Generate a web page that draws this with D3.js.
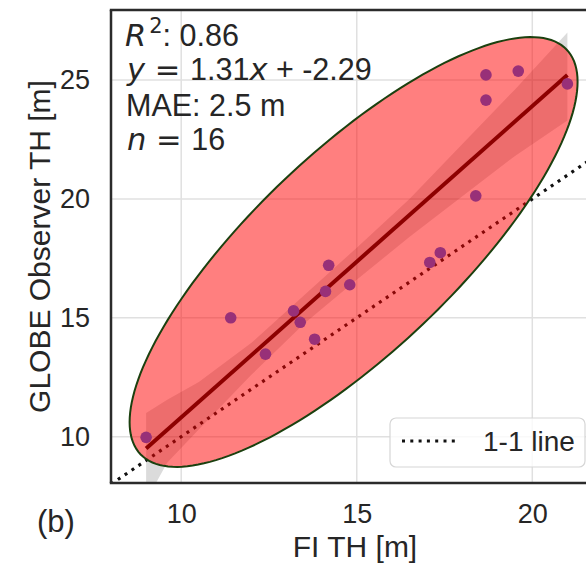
<!DOCTYPE html>
<html>
<head>
<meta charset="utf-8">
<script src="https://cdn.jsdelivr.net/npm/d3@7"></script>
<style>
  html, body { margin: 0; padding: 0; background: #fff; }
  svg { display: block; }
  text { font-family: "Liberation Sans", Arial, sans-serif; fill: #262626; white-space: pre; }
</style>
</head>
<body>
<svg id="chart" width="586" height="567"></svg>
<script>
// ---- data ----
const fiTH    = [9.0, 11.41, 12.40, 13.20, 13.39, 13.80, 14.11, 14.20, 14.80, 17.08, 17.38, 18.39, 18.68, 19.60, 18.68, 21.0];
const globeTH = [9.97, 15.0, 13.47, 15.29, 14.81, 14.10, 16.11, 17.21, 16.39, 17.33, 17.74, 20.13, 25.22, 25.38, 24.16, 24.84];
const slope = 1.31, intercept = -2.29;
const bandX  = [9.0, 9.6, 10.5, 12, 13.5, 15, 16.5, 18, 19.5, 21];
const bandLo = [7.3, 8.9, 10.3, 12.6, 14.75, 16.6, 18.4, 20.1, 21.8, 23.3];
const bandHi = [11.0, 11.55, 12.3, 13.95, 15.95, 17.95, 20.0, 22.3, 24.6, 27.0];
const ellipseCenter = [14.91, 17.77];
const ellipseSemiAxes = [10.55, 3.34];
const ellipseAngleDeg = 57.1;
const xTicks = [10, 15, 20];
const yTicks = [10, 15, 20, 25];
const xDomain = [8, 21.9];
const yDomain = [8.05, 27.95];
const annotation = {r2: "0.86", slope: "1.31", intercept: "-2.29", mae: "2.5 m", n: "16"};
const legendLabel = "1-1 line";
const panelLabel = "(b)";
const xLabel = "FI TH [m]";
const yLabel = "GLOBE Observer TH [m]";

// ---- layout ----
const L = 111, T = 10, B = 483, R = 599;
const svg = d3.select("#chart");
const x = d3.scaleLinear().domain(xDomain).range([L, R]);
const y = d3.scaleLinear().domain(yDomain).range([B, T]);

svg.append("defs").append("clipPath").attr("id", "plotclip")
  .append("rect").attr("x", L).attr("y", T).attr("width", R - L).attr("height", B - T);

const plot = svg.append("g").attr("clip-path", "url(#plotclip)");

// grid
plot.selectAll(".gx").data(xTicks).join("line")
  .attr("x1", d => x(d)).attr("x2", d => x(d)).attr("y1", T).attr("y2", B)
  .attr("stroke", "#e0e0e0").attr("stroke-width", 1.5);
plot.selectAll(".gy").data(yTicks).join("line")
  .attr("y1", d => y(d)).attr("y2", d => y(d)).attr("x1", L).attr("x2", R)
  .attr("stroke", "#e0e0e0").attr("stroke-width", 1.5);

// confidence band
const bandData = bandX.map((v, i) => ({x: v, lo: bandLo[i], hi: bandHi[i]}));
plot.append("path").datum(bandData)
  .attr("d", d3.area().x(d => x(d.x)).y0(d => y(d.lo)).y1(d => y(d.hi)))
  .attr("fill", "#000").attr("fill-opacity", 0.14);

// 1-1 line
plot.append("line")
  .attr("x1", x(xDomain[0])).attr("y1", y(xDomain[0]))
  .attr("x2", x(xDomain[1])).attr("y2", y(xDomain[1]))
  .attr("stroke", "#111").attr("stroke-width", 3.2).attr("stroke-dasharray", "3 5.3");

// regression line
const xMin = d3.min(fiTH), xMax = d3.max(fiTH);
plot.append("line")
  .attr("x1", x(xMin)).attr("y1", y(slope * xMin + intercept))
  .attr("x2", x(xMax)).attr("y2", y(slope * xMax + intercept))
  .attr("stroke", "#1a0000").attr("stroke-width", 4);

// points
plot.selectAll(".pt").data(fiTH.map((v, i) => [v, globeTH[i]])).join("circle")
  .attr("cx", d => x(d[0])).attr("cy", d => y(d[1])).attr("r", 5.8)
  .attr("fill", "#3060f0");

// ellipse (data space -> pixel via scales)
const th = ellipseAngleDeg * Math.PI / 180;
const ellPts = d3.range(0, 361, 2).map(deg => {
  const t = deg * Math.PI / 180;
  const ex = ellipseSemiAxes[0] * Math.cos(t), ey = ellipseSemiAxes[1] * Math.sin(t);
  return [ellipseCenter[0] + ex * Math.cos(th) - ey * Math.sin(th),
          ellipseCenter[1] + ex * Math.sin(th) + ey * Math.cos(th)];
});
plot.append("path").datum(ellPts)
  .attr("d", d3.line().x(d => x(d[0])).y(d => y(d[1])).curve(d3.curveLinearClosed))
  .attr("fill", "#ff0000").attr("fill-opacity", 0.5)
  .attr("stroke", "#1b400f").attr("stroke-width", 2);

// spines
svg.append("line").attr("x1", L).attr("x2", L).attr("y1", T).attr("y2", B)
  .attr("stroke", "#2b2b2b").attr("stroke-width", 2.5);
svg.append("line").attr("x1", L - 1.2).attr("x2", R).attr("y1", B).attr("y2", B)
  .attr("stroke", "#2b2b2b").attr("stroke-width", 2.5);
svg.append("line").attr("x1", L - 1.2).attr("x2", R).attr("y1", T).attr("y2", T)
  .attr("stroke", "#2b2b2b").attr("stroke-width", 2.5);

// axes tick labels via d3 axes
const xAxis = svg.append("g").attr("transform", `translate(0,${B})`)
  .call(d3.axisBottom(x).tickValues(xTicks).tickSize(0).tickPadding(21));
xAxis.select(".domain").remove();
xAxis.selectAll("text").attr("font-size", 27).attr("fill", "#262626")
  .style("font-family", "Liberation Sans, Arial, sans-serif");

const yAxis = svg.append("g").attr("transform", `translate(${L},0)`)
  .call(d3.axisLeft(y).tickValues(yTicks).tickSize(0).tickPadding(21));
yAxis.select(".domain").remove();
yAxis.selectAll("text").attr("font-size", 27).attr("fill", "#262626")
  .style("font-family", "Liberation Sans, Arial, sans-serif");

// axis labels
svg.append("text").attr("x", (L + R) / 2).attr("y", 557).attr("text-anchor", "middle")
  .attr("font-size", 30).text(xLabel);
svg.append("text").attr("transform", `translate(50,${(T + B) / 2}) rotate(-90)`)
  .attr("text-anchor", "middle").attr("font-size", 30).text(yLabel);
svg.append("text").attr("x", 37).attr("y", 532).attr("font-size", 31).text(panelLabel);

// annotation
const ann = svg.append("g").attr("font-size", 30.5);
const mathFont = "DejaVu Sans, sans-serif";
const l1 = ann.append("text").attr("x", 125).attr("y", 46);
l1.append("tspan").style("font-family", mathFont).attr("font-style", "italic").text("R");
l1.append("tspan").attr("font-size", 21).attr("dx", 3).attr("dy", -13).style("font-family", mathFont).text("2");
l1.append("tspan").attr("dy", 13).text(": " + annotation.r2);

const l2 = ann.append("text").attr("x", 127).attr("y", 80);
l2.append("tspan").style("font-family", mathFont).attr("font-style", "italic").text("y");
l2.append("tspan").style("font-family", mathFont).text(" = ");
l2.append("tspan").text(annotation.slope);
l2.append("tspan").style("font-family", mathFont).attr("font-style", "italic").text("x");
l2.append("tspan").text(" + " + annotation.intercept);

ann.append("text").attr("x", 126).attr("y", 116).text("MAE: " + annotation.mae);

const l4 = ann.append("text").attr("x", 127).attr("y", 150);
l4.append("tspan").style("font-family", mathFont).attr("font-style", "italic").text("n");
l4.append("tspan").style("font-family", mathFont).text(" = ");
l4.append("tspan").text(annotation.n);

// legend
const lg = svg.append("g");
lg.append("rect").attr("x", 390).attr("y", 418).attr("width", 195).attr("height", 49).attr("rx", 6)
  .attr("fill", "#fff").attr("fill-opacity", 0.8).attr("stroke", "#d6d6d6").attr("stroke-width", 1.2);
lg.append("line").attr("x1", 402).attr("x2", 458).attr("y1", 441).attr("y2", 441)
  .attr("stroke", "#111").attr("stroke-width", 3.2).attr("stroke-dasharray", "3 5.3");
lg.append("text").attr("x", 483).attr("y", 451).attr("font-size", 28).text(legendLabel);
</script>
</body>
</html>
